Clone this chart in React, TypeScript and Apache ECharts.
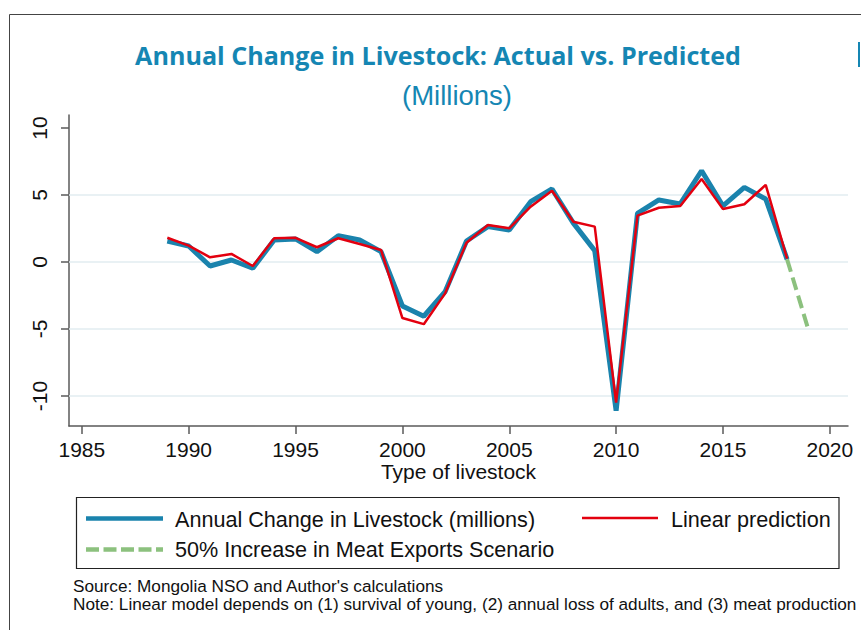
import React, { useEffect, useRef } from "react";
import * as echarts from "echarts";

// ---- data ----
const years = [1989, 1990, 1991, 1992, 1993, 1994, 1995, 1996, 1997, 1998, 1999, 2000, 2001, 2002, 2003, 2004, 2005, 2006, 2007, 2008, 2009, 2010, 2011, 2012, 2013, 2014, 2015, 2016, 2017, 2018];
const actual = [1.57, 1.19, -0.3, 0.15, -0.47, 1.64, 1.72, 0.77, 1.96, 1.64, 0.77, -3.28, -4.05, -2.21, 1.57, 2.64, 2.39, 4.5, 5.45, 2.9, 0.85, -11.1, 3.63, 4.63, 4.33, 6.81, 4.18, 5.57, 4.7, 0.2];
const predicted = [1.81, 1.22, 0.35, 0.6, -0.3, 1.77, 1.8, 1.1, 1.77, 1.34, 0.9, -4.18, -4.64, -2.34, 1.44, 2.76, 2.51, 4.13, 5.32, 3.0, 2.64, -10.5, 3.46, 4.05, 4.18, 6.19, 3.96, 4.31, 5.75, 0.25];
const scenarioYears = [2018, 2019];
const scenario = [0.2, -5.07];
const xTicks = [1985, 1990, 1995, 2000, 2005, 2010, 2015, 2020];
const yTicks = [-10, -5, 0, 5, 10];
const gridValues = [-10, -5, 0, 5];
const seriesNames = [
  "Annual Change in Livestock (millions)",
  "Linear prediction",
  "50% Increase in Meat Exports Scenario",
];
const titleText = "Annual Change in Livestock: Actual vs. Predicted";
const subtitleText = "(Millions)";
const xAxisTitle = "Type of livestock";
const notes = [
  "Source: Mongolia NSO and Author's calculations",
  "Note: Linear model depends on (1) survival of young, (2) annual loss of adults, and (3) meat production",
];

const BLUE = "#1a83ad";
const RED = "#e3000f";
const GREEN = "#8cc17e";
const TITLE_BLUE = "#1586b3";
const FONT = "'Liberation Sans', Arial, Helvetica, sans-serif";

export default function App() {
  const ref = useRef<HTMLDivElement>(null);
  useEffect(() => {
    if (!ref.current) return;
    const chart = echarts.init(ref.current, null, { renderer: "svg" });
    const pair = (xs: number[], ys: number[]) => xs.map((x, i) => [x, ys[i]]);
    const legendX = 86;
    const option: any = {
      animation: false,
      backgroundColor: "#ffffff",
      textStyle: { fontFamily: FONT },
      grid: { left: 69, right: 13, top: 115, bottom: 204, containLabel: false },
      xAxis: {
        type: "value",
        min: 1984.4,
        max: 2020.85,
        name: xAxisTitle,
        nameLocation: "middle",
        nameGap: 35,
        nameTextStyle: { fontSize: 21, color: "#111", fontFamily: FONT },
        axisLine: { show: true, onZero: false, lineStyle: { color: "#5a5a5a", width: 1.5 } },
        axisTick: { show: true, length: 8, customValues: xTicks, lineStyle: { color: "#5a5a5a", width: 1.5 } },
        axisLabel: { customValues: xTicks, fontSize: 21, color: "#111", margin: 13, fontFamily: FONT, formatter: (v: number) => String(v) },
        splitLine: { show: false },
      },
      yAxis: {
        type: "value",
        min: -12.24,
        max: 10.97,
        axisLine: { show: true, onZero: false, lineStyle: { color: "#5a5a5a", width: 1.5 } },
        axisTick: { show: true, length: 8, customValues: yTicks, lineStyle: { color: "#5a5a5a", width: 1.5 } },
        axisLabel: { customValues: yTicks, fontSize: 21, color: "#111", rotate: 90, margin: 19, fontFamily: FONT, formatter: (v: number) => String(v) },
        splitLine: { show: false },
      },
      series: [
        {
          name: seriesNames[0],
          type: "line",
          data: pair(years, actual),
          symbol: "none",
          lineStyle: { color: BLUE, width: 5 },
          z: 2,
          markLine: {
            silent: true,
            symbol: ["none", "none"],
            label: { show: false },
            lineStyle: { color: "#e2edf1", width: 1.5, type: "solid" },
            data: gridValues.map((v) => ({ yAxis: v })),
            z: 1,
          },
        },
        {
          name: seriesNames[1],
          type: "line",
          data: pair(years, predicted),
          symbol: "none",
          lineStyle: { color: RED, width: 2.5 },
          z: 3,
        },
        {
          name: seriesNames[2],
          type: "line",
          data: pair(scenarioYears, scenario),
          symbol: "none",
          lineStyle: { color: GREEN, width: 4, type: [13, 6] },
          z: 4,
        },
      ],
      graphic: [
        { type: "polyline", shape: { points: [[9.5, 630], [9.5, 14.5], [861, 14.5]] }, style: { stroke: "#444", lineWidth: 1, fill: null } },
        { type: "rect", shape: { x: 858, y: 42, width: 2, height: 25 }, style: { fill: TITLE_BLUE } },
        {
          type: "text", x: 438, y: 55,
          style: { text: titleText, fontFamily: "'Open Sans', sans-serif", fontWeight: "bold", fontSize: 25.1, fill: TITLE_BLUE, align: "center", verticalAlign: "middle" },
        },
        {
          type: "text", x: 457, y: 95,
          style: { text: subtitleText, fontFamily: FONT, fontSize: 27.5, fill: TITLE_BLUE, align: "center", verticalAlign: "middle" },
        },
        { type: "rect", shape: { x: 76.5, y: 497.5, width: 762.5, height: 71 }, style: { fill: "#fff", stroke: "#222", lineWidth: 1.2 } },
        { type: "line", shape: { x1: legendX, y1: 518.5, x2: 163, y2: 518.5 }, style: { stroke: BLUE, lineWidth: 4.5 } },
        { type: "text", x: 175, y: 519, style: { text: seriesNames[0], fontFamily: FONT, fontSize: 21.6, fill: "#111", align: "left", verticalAlign: "middle" } },
        { type: "line", shape: { x1: 582, y1: 518, x2: 658, y2: 518 }, style: { stroke: RED, lineWidth: 2.5 } },
        { type: "text", x: 671, y: 519, style: { text: seriesNames[1], fontFamily: FONT, fontSize: 21.6, fill: "#111", align: "left", verticalAlign: "middle" } },
        { type: "line", shape: { x1: legendX, y1: 549.5, x2: 163, y2: 549.5 }, style: { stroke: GREEN, lineWidth: 4.5, lineDash: [13, 4.5] } },
        { type: "text", x: 175, y: 549, style: { text: seriesNames[2], fontFamily: FONT, fontSize: 21.6, fill: "#111", align: "left", verticalAlign: "middle" } },
        { type: "text", x: 73, y: 586, style: { text: notes[0], fontFamily: FONT, fontSize: 17.2, fill: "#111", align: "left", verticalAlign: "middle" } },
        { type: "text", x: 73, y: 604, style: { text: notes[1], fontFamily: FONT, fontSize: 17.2, fill: "#111", align: "left", verticalAlign: "middle" } },
      ],
    };
    chart.setOption(option);
    return () => chart.dispose();
  }, []);
  return <div ref={ref} style={{ position: "fixed", left: 0, top: 0, width: 861, height: 630 }} />;
}
